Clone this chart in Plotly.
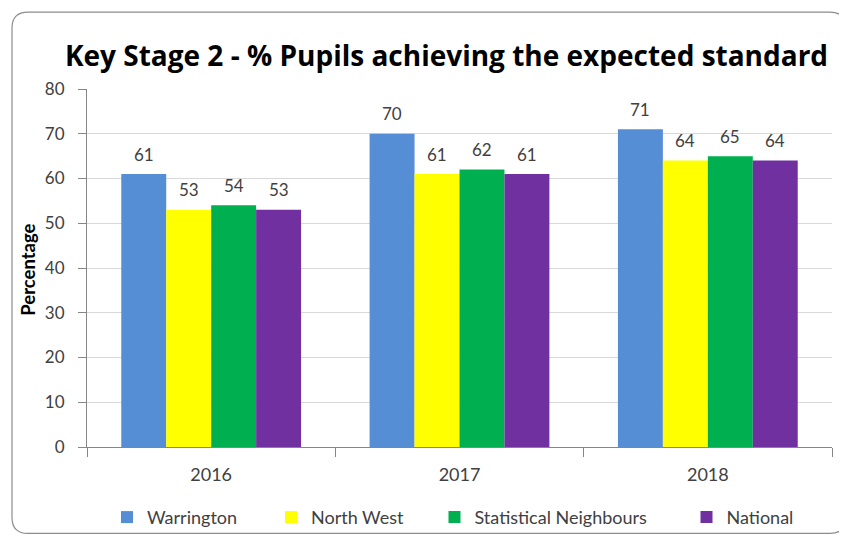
import plotly.graph_objects as go

years = ["2016", "2017", "2018"]
series_names = ["Warrington", "North West", "Statistical Neighbours", "National"]
warrington = [61, 70, 71]
north_west = [53, 61, 64]
stat_neighbours = [54, 62, 65]
national = [53, 61, 64]
colors = ["#558ED5", "#FFFF00", "#00B050", "#7030A0"]
y_ticks = [0, 10, 20, 30, 40, 50, 60, 70, 80]
series_values = [warrington, north_west, stat_neighbours, national]

# page has an 8px body margin; figure-local pixel geometry
W, H = 839, 529
L, R, T, B = 79, 15, 81, 89.5
PW, PH = W - L - R, H - T - B
BARGAP = 0.276

def px(x):
    return (x - L) / PW

def py(y):
    return (H - B - y) / PH

FONT = "Lato"
TXT = "#404040"
fig = go.Figure()
legend_ids = ["legend", "legend2", "legend3", "legend4"]
for name, vals, col, lg in zip(series_names, series_values, colors, legend_ids):
    fig.add_trace(go.Bar(
        name=name, x=years, y=vals, marker=dict(color=col, line=dict(width=0)),
        legend=lg, showlegend=True,
    ))

# data labels above bars
n = len(series_names)
bw = (1 - BARGAP) / n
annotations = []
for j, vals in enumerate(series_values):
    for i, v in enumerate(vals):
        annotations.append(dict(
            x=i + (j - (n - 1) / 2) * bw, y=v, xref="x", yref="y",
            text=str(v), showarrow=False, yanchor="middle", yshift=20,
            font=dict(family=FONT, size=17, color=TXT)))
annotations.append(dict(text="<b>Percentage</b>", textangle=-90, x=px(20), y=py(262),
                        xref="paper", yref="paper", showarrow=False,
                        xanchor="center", yanchor="middle",
                        font=dict(family=FONT, size=18.5, color="black")))

# rounded border
x0, y0, x1, y1, r = 4, 4, 838, 526, 16
path = (f"M {px(x0+r)},{py(y0)} L {px(x1-r)},{py(y0)} "
        f"Q {px(x1)},{py(y0)} {px(x1)},{py(y0+r)} L {px(x1)},{py(y1-r)} "
        f"Q {px(x1)},{py(y1)} {px(x1-r)},{py(y1)} L {px(x0+r)},{py(y1)} "
        f"Q {px(x0)},{py(y1)} {px(x0)},{py(y1-r)} L {px(x0)},{py(y0+r)} "
        f"Q {px(x0)},{py(y0)} {px(x0+r)},{py(y0)} Z")

legend_centers = [119, 283, 446.5, 698.5]
legend_style = dict(orientation="h", xanchor="left", yanchor="middle", visible=True,
                    font=dict(family=FONT, size=18, color=TXT), bgcolor="rgba(0,0,0,0)")
layout_legends = {}
for lg, cx in zip(legend_ids, legend_centers):
    layout_legends[lg] = dict(legend_style, x=px(cx - 20), y=py(510))

fig.update_layout(
    width=W, height=H,
    margin=dict(l=L, r=R, t=T, b=B, autoexpand=False),
    paper_bgcolor="white", plot_bgcolor="white",
    barmode="group", bargap=BARGAP, bargroupgap=0,
    showlegend=True,
    title=dict(text="<b>Key Stage 2 - % Pupils achieving the expected standard</b>",
               xref="container", x=438.5 / W, xanchor="center",
               yref="container", y=1 - 48 / H, yanchor="middle",
               font=dict(family="Open Sans", size=28, color="black")),
    font=dict(family=FONT, color=TXT),
    shapes=[dict(type="path", path=path, xref="paper", yref="paper",
                 line=dict(color="#8C8C8C", width=1.2), layer="below")],
    annotations=annotations,
    **layout_legends,
)
fig.update_yaxes(range=[0, 80], tickvals=y_ticks, showgrid=True, gridcolor="#D9D9D9",
                 showline=True, linecolor="#868686", ticks="outside", ticklen=8,
                 tickcolor="#868686", tickfont=dict(family=FONT, size=17, color=TXT),
                 ticklabelstandoff=10, zeroline=False)
fig.update_xaxes(showline=True, linecolor="#868686", ticks="outside", ticklen=9,
                 tickson="boundaries", tickcolor="#868686", ticklabelstandoff=11,
                 tickfont=dict(family=FONT, size=18, color=TXT))

fig.write_html("out.html")
